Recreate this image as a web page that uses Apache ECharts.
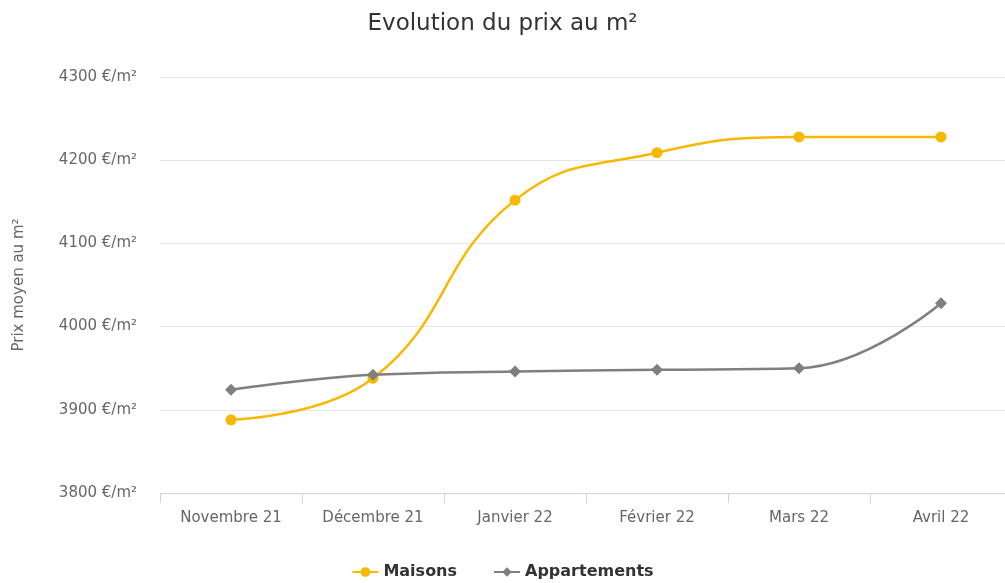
<!DOCTYPE html>
<html>
<head>
<meta charset="utf-8">
<script src="https://cdn.jsdelivr.net/npm/echarts@6/dist/echarts.min.js"></script>
<style>
  html, body { margin: 0; padding: 0; background: #fff; }
  #chart { width: 1005px; height: 583px; }
</style>
</head>
<body>
<div id="chart"></div>
<script>
  const categories = ['Novembre 21', 'Décembre 21', 'Janvier 22', 'Février 22', 'Mars 22', 'Avril 22']
  const maisons = [3888, 3938, 4152, 4209, 4228, 4228]
  const appartements = [3924, 3942, 3946, 3948, 3950, 4028]
  const yMin = 3800
  const yMax = 4300
  const yStep = 100

  const font = '"DejaVu Sans", "Open Sans", sans-serif'
  const myChart = echarts.init(document.getElementById('chart'))
  myChart.setOption({
    textStyle: { fontFamily: font },
    title: {
      text: 'Evolution du prix au m²',
      left: 'center',
      top: 8,
      textStyle: { color: '#333', fontSize: 23, fontWeight: 'normal', fontFamily: font }
    },
    legend: {
      bottom: -2,
      left: 'center',
      itemGap: 36,
      itemWidth: 26,
      itemHeight: 12,
      textStyle: { color: '#333', fontSize: 16, fontWeight: 'bold', fontFamily: font },
      data: ['Maisons', 'Appartements']
    },
    grid: {
      left: 160,
      top: 77,
      width: 852,
      bottom: 90,
      outerBoundsMode: 'none',
      containLabel: false
    },
    xAxis: {
      type: 'category',
      boundaryGap: true,
      data: categories,
      axisLine: { lineStyle: { color: '#ccd6eb', width: 1 } },
      axisTick: { show: true, length: 10, lineStyle: { color: '#ccd6eb' } },
      axisLabel: { color: '#666', fontSize: 15, margin: 18, fontFamily: font },
      splitLine: { show: false }
    },
    yAxis: {
      type: 'value',
      min: yMin,
      max: yMax,
      interval: yStep,
      name: 'Prix moyen au m²',
      nameLocation: 'middle',
      nameRotate: 90,
      nameGap: 133,
      nameTextStyle: { color: '#666', fontSize: 15, fontFamily: font },
      axisLine: { show: false },
      axisTick: { show: false },
      axisLabel: {
        color: '#666', fontSize: 15, margin: 23, fontFamily: font,
        formatter: function (v) { return v + ' €/m²' }
      },
      splitLine: { lineStyle: { color: '#e6e6e6', width: 1 } }
    },
    series: [
      {
        name: 'Maisons',
        type: 'line',
        smooth: 0.45,
        symbol: 'circle',
        symbolSize: 11,
        lineStyle: { width: 2.5, color: '#f9b800' },
        itemStyle: { color: '#f9b800' },
        data: maisons
      },
      {
        name: 'Appartements',
        type: 'line',
        smooth: 0.45,
        symbol: 'diamond',
        symbolSize: 12,
        lineStyle: { width: 2.5, color: '#7f7f7f' },
        itemStyle: { color: '#7f7f7f' },
        data: appartements
      }
    ]
  })
</script>
</body>
</html>
